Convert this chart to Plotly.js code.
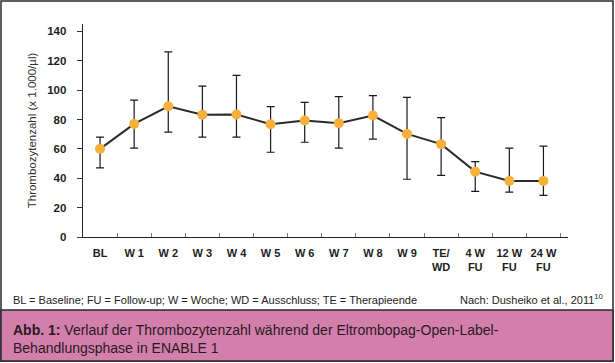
<!DOCTYPE html>
<html>
<head>
<meta charset="utf-8">
<script src="https://cdn.plot.ly/plotly-3.0.1.min.js"></script>
<style>
html,body{margin:0;padding:0;background:#fff;}
#chart{width:615px;height:363px;}
</style>
</head>
<body>
<div id="chart"></div>
<script>
// ---- data ----
const categories = ["BL","W 1","W 2","W 3","W 4","W 5","W 6","W 7","W 8","W 9","TE/<br>WD","4 W<br>FU","12 W<br>FU","24 W<br>FU"];
const meanValues = [60, 77, 89, 83.2, 83.4, 76.8, 79.3, 77.5, 82.7, 70.2, 63.2, 44.5, 38.2, 38.2];
const upperValues = [68, 93.2, 126, 102.7, 110, 88.8, 91.6, 95.6, 96.3, 95, 81.3, 51.3, 60.5, 61.8];
const lowerValues = [47, 60.5, 71.4, 68, 68, 57.7, 64.5, 60.5, 66.6, 39.3, 42, 31.1, 30.5, 28.4];
const yTickVals = [0, 20, 40, 60, 80, 100, 120, 140];

const errPlus = upperValues.map((u, i) => u - meanValues[i]);
const errMinus = meanValues.map((m, i) => m - lowerValues[i]);

// ---- layout geometry (pixels) ----
const W = 615, H = 363;
const L = 83, R = 568, T = 24, B = 237;
const px = x => (x - L) / (R - L);
const py = y => (B - y) / (B - T);

const trace = {
  x: categories,
  y: meanValues,
  type: 'scatter',
  mode: 'lines+markers',
  line: {color: '#2b2b2b', width: 2},
  marker: {color: '#f8b03c', size: 10, line: {width: 0}},
  error_y: {
    type: 'data', symmetric: false,
    array: errPlus, arrayminus: errMinus,
    color: '#1a1a1a', thickness: 1.2, width: 4
  },
  hoverinfo: 'skip',
  cliponaxis: false
};

const layout = {
  width: W, height: H,
  margin: {l: L, r: W - R, t: T, b: H - B, pad: 0},
  paper_bgcolor: '#ffffff',
  plot_bgcolor: '#ffffff',
  showlegend: false,
  font: {family: 'Liberation Sans, Arial, sans-serif', color: '#222'},
  xaxis: {
    type: 'category',
    range: [-0.5, 13.72],
    tickson: 'boundaries',
    tickangle: 0,
    ticks: 'inside', ticklen: 4, tickwidth: 1, tickcolor: '#5f7f9c',
    showline: true, linecolor: '#222', linewidth: 1.3,
    showgrid: false, zeroline: false,
    tickfont: {family: 'Liberation Sans, Arial, sans-serif', size: 11, color: '#1e1e1e', weight: 'bold'},
    ticklabelstandoff: 5,
    automargin: false,
    fixedrange: true
  },
  yaxis: {
    range: [0, 145],
    tickvals: yTickVals,
    ticktext: yTickVals.map(String),
    ticks: 'outside', ticklen: 5, tickwidth: 1, tickcolor: '#333',
    showline: true, linecolor: '#222', linewidth: 1.3,
    showgrid: false, zeroline: false,
    tickfont: {family: 'Liberation Sans, Arial, sans-serif', size: 11.5, color: '#1e1e1e', weight: 'bold'},
    ticklabelstandoff: 8,
    title: {text: 'Thrombozytenzahl (x 1.000/µl)', font: {size: 11.5, color: '#333'}, standoff: 8},
    automargin: false,
    fixedrange: true
  },
  shapes: [
    {type: 'rect', xref: 'paper', yref: 'paper', x0: px(1), x1: px(613), y0: py(1), y1: py(361),
     line: {color: '#2a2a2a', width: 1.5}, fillcolor: 'rgba(0,0,0,0)', layer: 'below'},
    {type: 'rect', xref: 'paper', yref: 'paper', x0: px(1), x1: px(613), y0: py(310), y1: py(361),
     line: {color: '#2a2a2a', width: 1.5}, fillcolor: '#d27fab', layer: 'below'}
  ],
  annotations: [
    {xref: 'paper', yref: 'paper', x: px(11), y: py(300), xanchor: 'left', yanchor: 'middle',
     text: 'BL = Baseline; FU = Follow-up; W = Woche; WD = Ausschluss; TE = Therapieende',
     showarrow: false, font: {size: 11, color: '#222'}},
    {xref: 'paper', yref: 'paper', x: px(605), y: py(299), xanchor: 'right', yanchor: 'middle',
     text: 'Nach: Dusheiko et al., 2011<sup>10</sup>',
     showarrow: false, font: {size: 11, color: '#222'}},
    {xref: 'paper', yref: 'paper', x: px(11), y: py(339), xanchor: 'left', yanchor: 'middle', align: 'left',
     text: '<b>Abb. 1:</b> Verlauf der Thrombozytenzahl während der Eltrombopag-Open-Label-<br>Behandlungsphase in ENABLE 1',
     showarrow: false, font: {size: 14, color: '#2a1a24'}}
  ]
};

Plotly.newPlot('chart', [trace], layout, {displayModeBar: false, staticPlot: true});
</script>
</body>
</html>
